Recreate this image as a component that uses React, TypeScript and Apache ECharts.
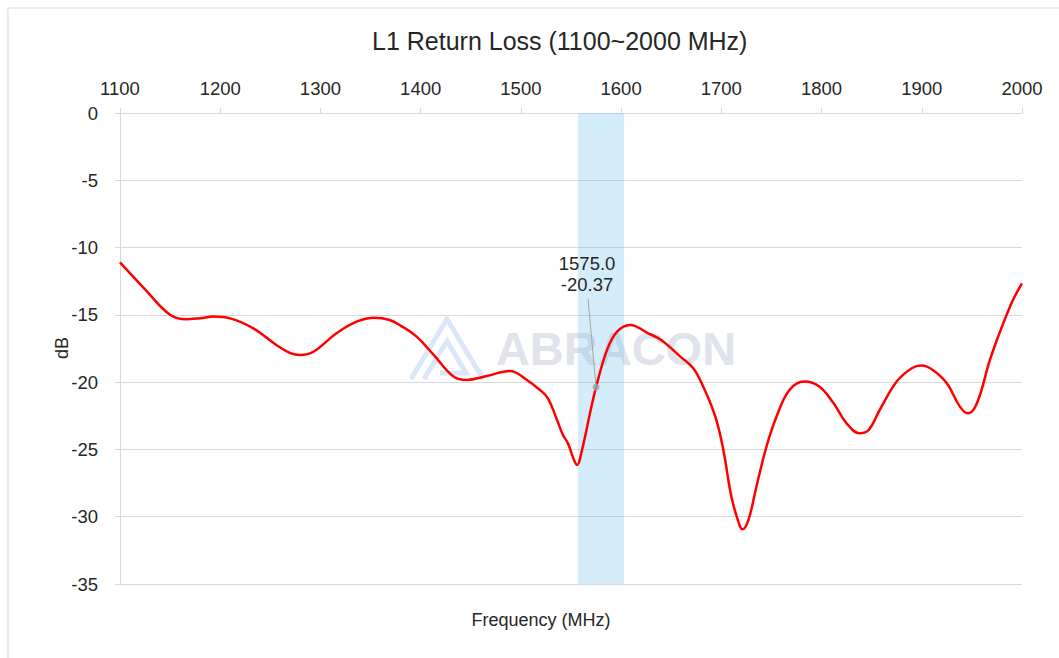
import React, { useEffect, useRef } from "react";
import * as echarts from "echarts";

const title = "L1 Return Loss (1100~2000 MHz)";
const xAxisName = "Frequency (MHz)";
const yAxisName = "dB";
const watermark = "ABRACON";

const frequency: number[] = [
  1100, 1125, 1150, 1166, 1180, 1193, 1210, 1233, 1256, 1270, 1280, 1293, 1316, 1336, 1354, 1369,
  1380, 1396, 1413, 1433, 1446, 1466, 1489, 1506, 1519, 1527, 1536, 1542, 1547, 1552, 1556, 1561,
  1569, 1575, 1586, 1596, 1609, 1627, 1640, 1659, 1672, 1682, 1694, 1702, 1710, 1717, 1721, 1727,
  1735, 1745, 1755, 1768, 1783, 1798, 1812, 1825, 1838, 1847, 1858, 1875, 1890, 1900, 1911, 1925,
  1938, 1946, 1955, 1968, 1980, 1991, 2000,
];
const returnLoss: number[] = [
  -11.1, -13.1, -15.0, -15.33, -15.25, -15.13, -15.26, -16.0, -17.24, -17.85, -17.98, -17.74, -16.37, -15.5, -15.21, -15.38,
  -15.8, -16.62, -17.98, -19.6, -19.84, -19.54, -19.17, -19.84, -20.58, -21.2, -22.8, -23.93, -24.55, -25.6, -26.15, -25.04,
  -22.3, -20.37, -17.6, -16.25, -15.75, -16.37, -16.87, -18.1, -18.97, -20.34, -22.57, -25.04, -28.5, -30.37, -30.94, -30.25,
  -27.77, -24.8, -22.57, -20.58, -19.96, -20.34, -21.57, -23.06, -23.8, -23.56, -22.07, -19.96, -18.97, -18.77, -19.1, -20.09,
  -21.82, -22.32, -21.57, -18.35, -15.88, -13.9, -12.66,
];
const band: [number, number] = [1557, 1603];
const marker: [number, number] = [1575, -20.37];

export default function App() {
  const ref = useRef<HTMLDivElement>(null);
  useEffect(() => {
    if (!ref.current) return;
    const chart = echarts.init(ref.current, null, { renderer: "svg" });
    const axisColor = "#d9d9d9";
    const textColor = "#262626";
    const font = "'Liberation Sans', Arial, sans-serif";
    chart.setOption({
      animation: false,
      backgroundColor: "#ffffff",
      textStyle: { fontFamily: font },
      title: {
        text: title,
        left: 367,
        top: 23,
        textStyle: { fontFamily: font, fontSize: 25, fontWeight: "normal", color: textColor },
      },
      grid: { left: 120, right: 37, top: 113, bottom: 74, containLabel: false },
      xAxis: {
        type: "value",
        position: "top",
        min: 1100,
        max: 2000,
        interval: 100,
        axisLine: { show: true, lineStyle: { color: axisColor, width: 1 } },
        axisTick: { show: true, length: 5, lineStyle: { color: axisColor } },
        axisLabel: { fontFamily: font, fontSize: 18.5, color: textColor, margin: 15, formatter: (v: number) => String(v) },
        splitLine: { show: false },
      },
      yAxis: {
        type: "value",
        min: -35,
        max: 0,
        interval: 5,
        axisLine: { show: true, lineStyle: { color: axisColor, width: 1 } },
        axisTick: { show: true, length: 5, lineStyle: { color: axisColor } },
        axisLabel: { fontFamily: font, fontSize: 18.5, color: textColor, margin: 22, formatter: (v: number) => String(v) },
        splitLine: { show: true, lineStyle: { color: axisColor, width: 1 } },
      },
      series: [
        {
          type: "line",
          z: 2,
          data: frequency.map((f, i) => [f, returnLoss[i]]),
          smooth: 0.4,
          showSymbol: false,
          lineStyle: { color: "#ff0000", width: 2.5 },
          silent: true,
        },
        {
          type: "line",
          z: 10,
          data: [],
          silent: true,
          markArea: {
            silent: true,
            itemStyle: { color: "rgba(100,190,235,0.27)" },
            data: [[{ xAxis: band[0] }, { xAxis: band[1] }]],
          },
        },
        {
          type: "scatter",
          z: 4,
          data: [marker],
          symbol: "circle",
          symbolSize: 7,
          itemStyle: { color: "#9aa5ad" },
          silent: true,
        },
      ],
    });

    const p = chart.convertToPixel({ gridIndex: 0 }, marker) as number[];
    chart.setOption({
      graphic: [
        {
          type: "rect",
          z: -10,
          silent: true,
          shape: { x: 8, y: 8, width: 1200, height: 800 },
          style: { fill: "none", stroke: "#d9d9d9", lineWidth: 1 },
        },
        {
          type: "text",
          z: 0,
          silent: true,
          x: 541,
          y: 620,
          style: {
            text: xAxisName,
            font: "18px 'Liberation Sans', Arial, sans-serif",
            fill: textColor,
            align: "center",
            verticalAlign: "middle",
          },
        },
        {
          type: "text",
          z: 0,
          silent: true,
          x: 62,
          y: 348,
          rotation: Math.PI / 2,
          style: {
            text: yAxisName,
            font: "18px 'Liberation Sans', Arial, sans-serif",
            fill: textColor,
            align: "center",
            verticalAlign: "middle",
          },
        },
        {
          type: "text",
          z: 0,
          silent: true,
          x: 616,
          y: 348,
          style: {
            text: watermark,
            font: "bold 47px 'Liberation Sans', Arial, sans-serif",
            fill: "#e0e3ec",
            align: "center",
            verticalAlign: "middle",
          },
        },
        {
          type: "polyline",
          z: 0,
          silent: true,
          shape: { points: [[411, 379], [447, 319], [483, 379]] },
          style: { stroke: "#dbe7f8", lineWidth: 5, fill: "none" },
        },
        {
          type: "polyline",
          z: 0,
          silent: true,
          shape: { points: [[424, 379], [447, 341], [466, 373], [440, 373]] },
          style: { stroke: "#dbe7f8", lineWidth: 5, fill: "none" },
        },
        {
          type: "line",
          z: 3,
          silent: true,
          shape: { x1: p[0] - 8, y1: p[1] - 88, x2: p[0], y2: p[1] },
          style: { stroke: "#a6a6a6", lineWidth: 1 },
        },
        {
          type: "text",
          z: 3,
          silent: true,
          x: p[0] - 9,
          y: p[1] - 113,
          style: {
            text: marker[0].toFixed(1) + "\n" + marker[1].toFixed(2),
            font: "18.5px 'Liberation Sans', Arial, sans-serif",
            fill: textColor,
            align: "center",
            verticalAlign: "middle",
            lineHeight: 21,
          },
        },
      ],
    });
    return () => chart.dispose();
  }, []);
  return <div ref={ref} style={{ width: 1059, height: 658, position: "absolute", left: 0, top: 0 }} />;
}
